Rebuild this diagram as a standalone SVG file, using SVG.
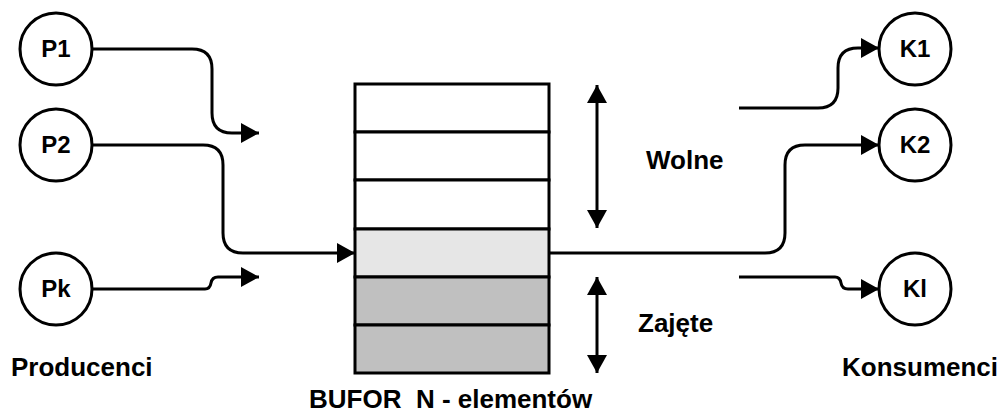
<svg xmlns="http://www.w3.org/2000/svg" width="1002" height="412" viewBox="0 0 1002 412">
<style>
.node circle{fill:#fff;stroke:#000;stroke-width:3}
.lbl{font-family:"Liberation Sans",Arial,sans-serif;font-weight:bold;font-size:24px;fill:#000;text-anchor:middle}
.txt{font-family:"Liberation Sans",Arial,sans-serif;font-weight:bold;font-size:26px;fill:#000}
.conn path{fill:none;stroke:#000;stroke-width:3}
.cell{stroke:#000;stroke-width:3}
</style>
<defs>
<marker id="ah" markerUnits="userSpaceOnUse" markerWidth="18" markerHeight="20" refX="18" refY="10" orient="auto-start-reverse" viewBox="0 0 18 20">
<path d="M0,0 L18,10 L0,20 z" fill="#000"/>
</marker>
</defs>
<rect width="1002" height="412" fill="#fff"/>
<g id="buffer">
<rect class="cell" x="355" y="84" width="194" height="48" fill="#fff"/>
<rect class="cell" x="355" y="132" width="194" height="48" fill="#fff"/>
<rect class="cell" x="355" y="180" width="194" height="49" fill="#fff"/>
<rect class="cell" x="355" y="229" width="194" height="48" fill="#e6e6e6"/>
<rect class="cell" x="355" y="277" width="194" height="48" fill="#c0c0c0"/>
<rect class="cell" x="355" y="325" width="194" height="48" fill="#c0c0c0"/>
</g>
<g id="connectors" class="conn">
<path d="M93,49 H192 Q212,49 212,69 V113 Q212,133 232,133 H259" marker-end="url(#ah)"/>
<path d="M93,145 H203 Q223,145 223,165 V233 Q223,253 243,253 H355" marker-end="url(#ah)"/>
<path d="M93,289 H205 Q210,289 211,283 Q212,277 218,277 H259" marker-end="url(#ah)"/>
<path d="M549,253 H765 Q785,253 785,233 V165 Q785,145 805,145 H879" marker-end="url(#ah)"/>
<path d="M739,108 H818 Q838,108 838,88 V68 Q838,48 858,48 H879" marker-end="url(#ah)"/>
<path d="M739,277 H835 Q840,277 841,283 Q842,289 848,289 H879" marker-end="url(#ah)"/>
<path d="M597,85 V228" marker-start="url(#ah)" marker-end="url(#ah)"/>
<path d="M597,277 V373" marker-start="url(#ah)" marker-end="url(#ah)"/>
</g>
<g id="P1" class="node"><circle cx="56" cy="49" r="36"/><text class="lbl" x="56" y="57">P1</text></g>
<g id="P2" class="node"><circle cx="56" cy="145" r="36"/><text class="lbl" x="56" y="153">P2</text></g>
<g id="Pk" class="node"><circle cx="56" cy="289" r="36"/><text class="lbl" x="56" y="297">Pk</text></g>
<g id="K1" class="node"><circle cx="915" cy="49" r="36"/><text class="lbl" x="915" y="57">K1</text></g>
<g id="K2" class="node"><circle cx="915" cy="145" r="36"/><text class="lbl" x="915" y="153">K2</text></g>
<g id="Kl" class="node"><circle cx="915" cy="289" r="36"/><text class="lbl" x="915" y="297">Kl</text></g>
<g id="labels">
<text class="txt" x="646" y="169">Wolne</text>
<text class="txt" x="638" y="332">Zajęte</text>
<text class="txt" x="11" y="376">Producenci</text>
<text class="txt" x="842" y="376">Konsumenci</text>
<text class="txt" x="309" y="408" xml:space="preserve">BUFOR  N - elementów</text>
</g>
</svg>
